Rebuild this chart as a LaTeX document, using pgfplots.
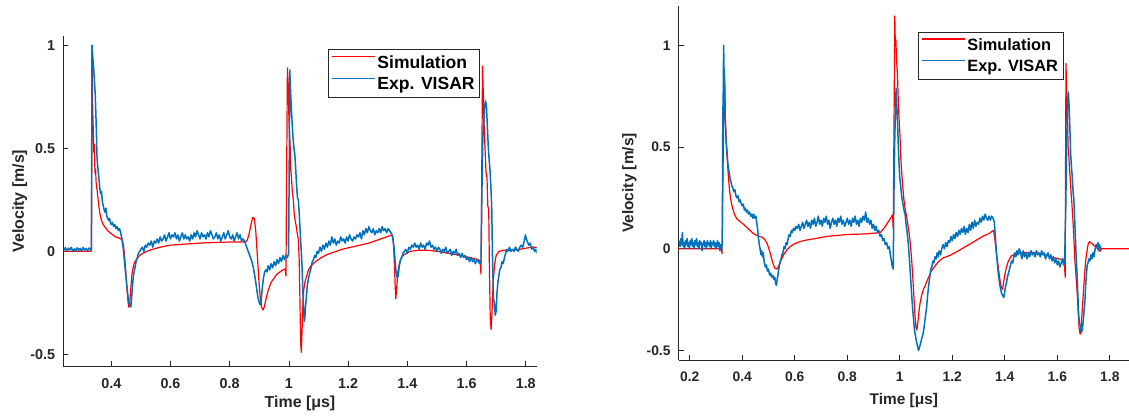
\documentclass[border=0pt]{standalone}
\usepackage{pgfplots}
\pgfplotsset{compat=1.18}
\usepackage{fontspec}
\setmainfont{Liberation Sans}
\definecolor{axgray}{RGB}{38,38,38}
\definecolor{mblue}{RGB}{0,114,189}
\definecolor{mred}{RGB}{255,0,0}
\pgfplotsset{
  mystyle/.style={
    scale only axis,
    axis x line=bottom, axis y line=left,
    axis line style={-, axgray, line width=0.8bp},
    tick align=inside,
    major tick length=5bp,
    tick style={axgray, line width=0.8bp},
    /pgf/number format/assume math mode=true,
    ytick={-0.5,0,0.5,1},
    yticklabels={-0.5,0,0.5,1},
    xticklabel style={inner sep=0pt, anchor=north, yshift=-12bp, text=axgray},
    yticklabel style={inner sep=0pt, anchor=east, xshift=-8bp, text=axgray},
    xlabel={Time [μs]}, ylabel={Velocity [m/s]},
    legend cell align=left,
    clip=true,
  },
  redl/.style={color=mred, line width=1.2bp, line join=round},
  bluel/.style={color=mblue, line width=1.5bp, line join=round},
}
\begin{document}
\begin{tikzpicture}
\begin{axis}[mystyle,
  at={(0bp,0bp)}, anchor=south west,
  width=473.4bp, height=330.3bp,
  xmin=0.238, xmax=1.837, ymin=-0.558, ymax=1.045,
  xtick={0.4,0.6,0.8,1,1.2,1.4,1.6,1.8},
  xticklabels={0.4,0.6,0.8,1,1.2,1.4,1.6,1.8},
  ticklabel style={font=\bfseries\fontsize{14.4}{16}\selectfont},
  label style={font=\bfseries\fontsize{16}{18}\selectfont, text=axgray, inner sep=0pt},
  xlabel style={at={(axis description cs:0.5,0)}, anchor=north, yshift=-29bp},
  ylabel style={at={(axis description cs:0,0.5)}, anchor=south, yshift=36bp},
  legend image code/.code={\draw[#1] (0bp,6.3bp) -- (43bp,6.3bp);},
  legend style={at={(0.880,0.960)}, anchor=north east, draw=axgray, line width=0.6bp,
    font=\bfseries\fontsize{17.6}{20}\selectfont, inner xsep=3bp, inner ysep=4bp,
    row sep=4bp},
]
\addplot[redl] coordinates {
(0.238,0.00)(0.330,0.00)(0.333,0.005)(0.334,0.5)(0.335,1.0)(0.337,0.72)(0.339,0.60)(0.341,0.48)(0.343,0.52)(0.345,0.38)(0.347,0.40)(0.349,0.33)(0.352,0.30)(0.355,0.26)(0.358,0.22)(0.362,0.18)(0.367,0.15)(0.373,0.13)(0.380,0.115)(0.388,0.10)(0.396,0.09)(0.405,0.08)(0.415,0.07)(0.425,0.065)(0.433,0.06)(0.438,0.05)(0.442,0.02)(0.446,-0.04)(0.450,-0.12)(0.454,-0.20)(0.457,-0.25)(0.459,-0.27)(0.461,-0.27)(0.464,-0.22)(0.467,-0.16)(0.470,-0.11)(0.475,-0.07)(0.480,-0.05)(0.490,-0.03)(0.500,-0.015)(0.520,0.00)(0.540,0.01)(0.565,0.02)(0.600,0.03)(0.650,0.035)(0.700,0.04)(0.750,0.043)(0.800,0.045)(0.850,0.045)(0.858,0.05)(0.865,0.08)(0.872,0.13)(0.878,0.165)(0.883,0.16)(0.888,0.10)(0.893,-0.01)(0.898,-0.13)(0.903,-0.22)(0.908,-0.27)(0.912,-0.285)(0.917,-0.27)(0.923,-0.23)(0.930,-0.19)(0.940,-0.15)(0.950,-0.13)(0.960,-0.11)(0.970,-0.10)(0.980,-0.09)(0.988,-0.085)(0.990,-0.12)(0.992,0.3)(0.995,0.89)(0.998,0.80)(1.000,0.65)(1.002,0.58)(1.004,0.52)(1.006,0.40)(1.009,0.35)(1.012,0.28)(1.015,0.25)(1.018,0.18)(1.021,0.15)(1.025,0.12)(1.029,0.08)(1.032,0.06)(1.035,-0.05)(1.038,-0.30)(1.040,-0.45)(1.042,-0.49)(1.044,-0.40)(1.047,-0.27)(1.050,-0.19)(1.054,-0.15)(1.060,-0.12)(1.066,-0.09)(1.075,-0.07)(1.090,-0.05)(1.110,-0.03)(1.130,-0.015)(1.150,-0.005)(1.180,0.01)(1.210,0.02)(1.240,0.03)(1.270,0.04)(1.300,0.055)(1.330,0.07)(1.350,0.08)(1.353,0.05)(1.356,-0.05)(1.359,-0.17)(1.361,-0.23)(1.364,-0.18)(1.368,-0.10)(1.373,-0.06)(1.380,-0.03)(1.390,-0.015)(1.410,0.00)(1.440,0.005)(1.470,0.005)(1.500,0.00)(1.540,-0.01)(1.580,-0.02)(1.610,-0.03)(1.640,-0.04)(1.646,-0.05)(1.649,-0.11)(1.651,0.3)(1.654,0.90)(1.657,0.75)(1.660,0.58)(1.663,0.48)(1.666,0.38)(1.669,0.36)(1.672,0.22)(1.675,0.20)(1.677,-0.05)(1.680,-0.32)(1.683,-0.38)(1.686,-0.30)(1.690,-0.15)(1.695,-0.06)(1.700,-0.02)(1.710,0.00)(1.725,0.005)(1.740,0.005)(1.760,0.005)(1.780,0.01)(1.800,0.015)(1.820,0.02)(1.837,0.02)
};
\addlegendentry{Simulation}
\addplot[bluel] coordinates {
(0.240,0.005)(0.245,0.018)(0.250,0.002)(0.255,0.015)(0.260,0.008)(0.265,0.020)(0.270,-0.002)(0.275,0.012)(0.280,0.004)(0.285,0.017)(0.290,0.006)(0.295,0.014)(0.300,0.000)(0.305,0.019)(0.310,0.007)(0.315,0.013)(0.320,0.003)(0.325,0.016)(0.330,0.009)(0.333,0.012)
(0.334,0.5)(0.335,1.0)(0.337,0.95)(0.340,0.90)(0.343,0.83)(0.346,0.76)(0.349,0.62)(0.352,0.45)(0.355,0.40)(0.358,0.36)(0.361,0.31)(0.364,0.28)(0.367,0.29)(0.370,0.24)(0.373,0.22)(0.376,0.20)(0.379,0.19)(0.382,0.21)(0.385,0.17)(0.388,0.16)(0.391,0.15)(0.394,0.16)(0.397,0.14)(0.400,0.13)(0.404,0.14)(0.408,0.12)(0.412,0.13)(0.416,0.11)(0.420,0.12)(0.424,0.10)(0.428,0.11)(0.432,0.09)(0.436,0.06)(0.440,0.02)(0.444,-0.04)(0.448,-0.10)(0.452,-0.16)(0.456,-0.21)(0.460,-0.25)(0.463,-0.26)(0.466,-0.27)(0.468,-0.24)(0.471,-0.18)(0.474,-0.13)(0.477,-0.10)(0.480,-0.08)(0.484,-0.05)(0.488,-0.03)(0.492,-0.01)(0.496,0.00)(0.500,0.01)(0.505,0.02)(0.510,0.00)(0.515,0.03)(0.520,0.02)(0.525,0.04)(0.530,0.03)(0.535,0.05)(0.540,0.02)(0.545,0.05)(0.550,0.04)(0.555,0.06)(0.560,0.04)(0.565,0.07)(0.570,0.05)(0.575,0.06)(0.580,0.08)(0.585,0.05)(0.590,0.07)(0.595,0.09)(0.600,0.06)(0.605,0.08)(0.610,0.07)(0.615,0.09)(0.620,0.06)(0.625,0.08)(0.630,0.05)(0.635,0.07)(0.640,0.09)(0.645,0.06)(0.650,0.08)(0.655,0.06)(0.660,0.07)(0.665,0.05)(0.670,0.08)(0.675,0.06)(0.680,0.09)(0.685,0.07)(0.690,0.10)(0.695,0.08)(0.700,0.06)(0.705,0.09)(0.710,0.07)(0.715,0.08)(0.720,0.06)(0.725,0.09)(0.730,0.07)(0.735,0.10)(0.740,0.08)(0.745,0.06)(0.750,0.07)(0.755,0.09)(0.760,0.06)(0.765,0.08)(0.770,0.05)(0.775,0.07)(0.780,0.09)(0.785,0.06)(0.790,0.08)(0.795,0.10)(0.800,0.07)(0.805,0.06)(0.810,0.08)(0.815,0.05)(0.820,0.07)(0.825,0.09)(0.830,0.06)(0.835,0.08)(0.840,0.05)(0.845,0.06)(0.850,0.05)(0.855,0.03)(0.860,0.01)(0.865,-0.01)(0.870,-0.03)(0.875,-0.05)(0.880,-0.08)(0.885,-0.12)(0.890,-0.17)(0.895,-0.22)(0.900,-0.25)(0.903,-0.26)(0.906,-0.24)(0.910,-0.18)(0.914,-0.13)(0.918,-0.10)(0.922,-0.09)(0.926,-0.10)(0.930,-0.07)(0.935,-0.09)(0.940,-0.06)(0.945,-0.08)(0.950,-0.05)(0.955,-0.07)(0.960,-0.04)(0.965,-0.06)(0.970,-0.03)(0.975,-0.05)(0.980,-0.02)(0.985,-0.04)(0.990,-0.02)(0.995,-0.03)(0.999,-0.01)
(1.001,0.40)(1.003,0.88)(1.005,0.80)(1.008,0.70)(1.011,0.62)(1.014,0.55)(1.017,0.50)(1.020,0.47)(1.023,0.40)(1.026,0.32)(1.029,0.26)(1.032,0.25)(1.035,0.18)(1.038,0.10)(1.041,0.02)(1.044,-0.06)(1.047,-0.18)(1.050,-0.30)(1.052,-0.34)(1.054,-0.32)(1.056,-0.27)(1.059,-0.22)(1.062,-0.17)(1.065,-0.14)(1.068,-0.12)(1.071,-0.10)(1.075,-0.08)(1.079,-0.05)(1.083,-0.04)(1.087,-0.02)(1.091,-0.03)(1.095,0.00)(1.100,-0.01)(1.105,0.02)(1.110,0.00)(1.115,0.03)(1.120,0.01)(1.125,0.04)(1.130,0.02)(1.135,0.05)(1.140,0.03)(1.145,0.07)(1.150,0.04)(1.155,0.06)(1.160,0.03)(1.165,0.05)(1.170,0.04)(1.175,0.07)(1.180,0.05)(1.185,0.06)(1.190,0.04)(1.195,0.07)(1.200,0.05)(1.205,0.08)(1.210,0.06)(1.215,0.05)(1.220,0.07)(1.225,0.06)(1.230,0.08)(1.235,0.07)(1.240,0.09)(1.245,0.06)(1.250,0.10)(1.255,0.08)(1.260,0.11)(1.265,0.09)(1.270,0.12)(1.275,0.10)(1.280,0.09)(1.285,0.11)(1.290,0.08)(1.295,0.10)(1.300,0.09)(1.305,0.11)(1.310,0.09)(1.315,0.12)(1.320,0.10)(1.325,0.11)(1.330,0.09)(1.335,0.11)(1.340,0.10)(1.345,0.09)(1.350,0.07)(1.355,0.02)(1.359,-0.05)(1.362,-0.10)(1.366,-0.13)(1.369,-0.12)(1.373,-0.07)(1.377,-0.04)(1.381,-0.03)(1.385,-0.01)(1.390,0.00)(1.395,0.01)(1.400,-0.01)(1.405,0.02)(1.410,0.01)(1.415,0.03)(1.420,0.02)(1.425,0.04)(1.430,0.02)(1.435,0.03)(1.440,0.01)(1.445,0.04)(1.450,0.02)(1.455,0.03)(1.460,0.01)(1.465,0.04)(1.470,0.03)(1.475,0.05)(1.480,0.02)(1.485,0.03)(1.490,0.01)(1.495,0.02)(1.500,0.00)(1.505,0.02)(1.510,0.01)(1.515,-0.01)(1.520,0.01)(1.525,0.00)(1.530,0.02)(1.535,-0.01)(1.540,0.00)(1.545,0.01)(1.550,-0.02)(1.555,0.00)(1.560,-0.01)(1.565,0.01)(1.570,-0.02)(1.575,-0.01)(1.580,-0.03)(1.585,-0.01)(1.590,-0.03)(1.595,-0.02)(1.600,-0.04)(1.605,-0.03)(1.610,-0.05)(1.615,-0.03)(1.620,-0.05)(1.625,-0.04)(1.630,-0.06)(1.635,-0.04)(1.640,-0.05)(1.645,-0.06)(1.649,-0.05)
(1.652,0.30)(1.655,0.55)(1.658,0.62)(1.661,0.70)(1.664,0.73)(1.667,0.71)(1.670,0.62)(1.673,0.52)(1.676,0.45)(1.679,0.40)(1.682,0.32)(1.685,0.22)(1.688,-0.05)(1.691,-0.23)(1.694,-0.25)(1.697,-0.31)(1.700,-0.29)(1.703,-0.20)(1.706,-0.15)(1.709,-0.12)(1.712,-0.09)(1.716,-0.08)(1.720,-0.05)(1.724,-0.06)(1.728,-0.03)(1.732,-0.01)(1.736,0.01)(1.740,0.00)(1.745,0.02)(1.750,0.00)(1.755,0.01)(1.760,0.00)(1.765,0.02)(1.770,0.01)(1.775,0.00)(1.780,0.02)(1.785,0.03)(1.790,0.02)(1.795,0.05)(1.799,0.08)(1.802,0.06)(1.805,0.05)(1.810,0.03)(1.815,0.04)(1.820,0.01)(1.825,0.02)(1.830,0.00)(1.834,0.01)(1.837,-0.01)
};
\addlegendentry{Exp. VISAR}
\end{axis}

\begin{axis}[mystyle,
  at={(615.4bp,6.3bp)}, anchor=south west,
  width=450.3bp, height=354bp,
  xmin=0.158, xmax=1.873, ymin=-0.547, ymax=1.193,
  xtick={0.2,0.4,0.6,0.8,1,1.2,1.4,1.6,1.8},
  xticklabels={0.2,0.4,0.6,0.8,1,1.2,1.4,1.6,1.8},
  ticklabel style={font=\bfseries\fontsize{13.9}{16}\selectfont},
  label style={font=\bfseries\fontsize{15.5}{18}\selectfont, text=axgray, inner sep=0pt},
  xlabel style={at={(axis description cs:0.5,0)}, anchor=north, yshift=-33bp},
  ylabel style={at={(axis description cs:0,0.5)}, anchor=south, yshift=42bp},
  legend image code/.code={\draw[#1] (0bp,6.1bp) -- (43bp,6.1bp);},
  legend style={at={(0.854,0.926)}, anchor=north east, draw=axgray, line width=0.6bp,
    font=\bfseries\fontsize{16.4}{19}\selectfont, inner xsep=3bp, inner ysep=4bp,
    row sep=4.5bp},
]
\addplot[redl] coordinates {
(0.158,0.00)(0.320,0.00)(0.323,-0.025)(0.326,0.30)(0.330,0.70)(0.332,0.87)(0.334,0.80)(0.336,0.62)(0.338,0.58)(0.340,0.49)(0.343,0.44)(0.346,0.38)(0.350,0.31)(0.354,0.26)(0.358,0.23)(0.363,0.20)(0.370,0.17)(0.378,0.15)(0.386,0.14)(0.395,0.13)(0.405,0.12)(0.417,0.105)(0.430,0.09)(0.442,0.075)(0.455,0.065)(0.468,0.06)(0.478,0.055)(0.486,0.045)(0.493,0.03)(0.499,0.01)(0.506,-0.02)(0.512,-0.05)(0.518,-0.075)(0.524,-0.095)(0.531,-0.10)(0.537,-0.09)(0.543,-0.07)(0.550,-0.05)(0.560,-0.025)(0.570,-0.005)(0.582,0.01)(0.600,0.025)(0.620,0.035)(0.646,0.043)(0.680,0.05)(0.720,0.06)(0.760,0.065)(0.800,0.07)(0.860,0.072)(0.925,0.079)(0.940,0.10)(0.955,0.13)(0.965,0.15)(0.972,0.166)(0.975,0.10)(0.978,0.6)(0.981,1.144)(0.983,1.00)(0.985,1.03)(0.987,0.95)(0.989,0.90)(0.991,0.86)(0.993,0.78)(0.995,0.70)(0.998,0.62)(1.001,0.55)(1.004,0.44)(1.007,0.38)(1.011,0.31)(1.015,0.25)(1.020,0.20)(1.027,0.15)(1.033,0.10)(1.039,0.04)(1.045,-0.05)(1.050,-0.15)(1.054,-0.24)(1.058,-0.33)(1.062,-0.39)(1.065,-0.40)(1.069,-0.36)(1.073,-0.31)(1.077,-0.27)(1.083,-0.23)(1.090,-0.20)(1.097,-0.18)(1.103,-0.16)(1.110,-0.14)(1.120,-0.11)(1.134,-0.085)(1.150,-0.06)(1.165,-0.045)(1.179,-0.039)(1.195,-0.03)(1.210,-0.02)(1.230,-0.005)(1.250,0.01)(1.270,0.025)(1.293,0.043)(1.315,0.06)(1.340,0.075)(1.357,0.09)(1.362,0.05)(1.367,-0.01)(1.372,-0.06)(1.377,-0.11)(1.382,-0.16)(1.387,-0.19)(1.391,-0.20)(1.395,-0.17)(1.400,-0.13)(1.406,-0.09)(1.414,-0.06)(1.425,-0.035)(1.446,-0.023)(1.470,-0.018)(1.509,-0.018)(1.550,-0.03)(1.590,-0.045)(1.615,-0.052)(1.626,-0.055)(1.630,-0.14)(1.631,0.3)(1.633,0.91)(1.635,0.80)(1.637,0.62)(1.639,0.64)(1.641,0.50)(1.643,0.48)(1.646,0.40)(1.649,0.35)(1.652,0.28)(1.655,0.23)(1.659,0.15)(1.663,0.05)(1.667,-0.06)(1.671,-0.13)(1.675,-0.20)(1.679,-0.30)(1.683,-0.39)(1.687,-0.42)(1.691,-0.38)(1.695,-0.30)(1.699,-0.22)(1.704,-0.12)(1.708,-0.06)(1.712,-0.02)(1.717,0.02)(1.722,0.035)(1.727,0.03)(1.733,0.025)(1.740,0.015)(1.747,0.01)(1.753,0.00)(1.758,-0.01)(1.763,-0.012)(1.768,0.00)(1.776,0.00)(1.873,0.00)
};
\addlegendentry{Simulation}
\addplot[bluel] coordinates {
(0.160,0.04)(0.163,0.01)(0.166,0.05)(0.169,0.02)(0.172,0.08)(0.175,0.01)(0.178,0.03)(0.181,0.00)(0.184,0.04)(0.187,0.02)(0.190,0.05)(0.193,0.01)(0.196,0.03)(0.199,0.00)(0.202,0.04)(0.205,0.02)(0.208,0.05)(0.211,0.01)(0.214,0.03)(0.217,0.00)(0.220,0.04)(0.223,0.02)(0.226,0.05)(0.229,0.01)(0.232,0.03)(0.235,0.00)(0.238,0.04)(0.241,0.02)(0.244,0.03)(0.247,-0.01)(0.250,0.02)(0.255,0.04)(0.258,0.01)(0.261,0.03)(0.264,0.00)(0.267,0.04)(0.270,0.02)(0.273,0.03)(0.276,0.01)(0.279,0.04)(0.282,0.00)(0.285,0.03)(0.288,0.02)(0.291,0.04)(0.294,0.01)(0.297,0.03)(0.300,0.00)(0.303,0.02)(0.306,0.04)(0.309,0.01)(0.312,0.03)(0.315,-0.01)(0.318,0.02)(0.321,0.00)(0.324,0.03)
(0.326,0.65)(0.328,0.80)(0.329,1.00)(0.331,0.85)(0.333,0.74)(0.336,0.60)(0.339,0.52)(0.342,0.48)(0.345,0.42)(0.348,0.39)(0.351,0.37)(0.354,0.34)(0.357,0.33)(0.360,0.31)(0.364,0.30)(0.368,0.28)(0.372,0.29)(0.376,0.26)(0.380,0.25)(0.384,0.26)(0.388,0.23)(0.392,0.24)(0.396,0.22)(0.400,0.21)(0.404,0.22)(0.408,0.19)(0.412,0.20)(0.416,0.18)(0.420,0.19)(0.424,0.17)(0.428,0.18)(0.432,0.16)(0.436,0.17)(0.440,0.15)(0.444,0.17)(0.448,0.15)(0.452,0.16)(0.456,0.12)(0.459,0.09)(0.462,0.05)(0.465,0.02)(0.468,0.00)(0.471,-0.03)(0.474,-0.01)(0.477,-0.04)(0.480,-0.02)(0.484,-0.07)(0.488,-0.09)(0.492,-0.08)(0.496,-0.11)(0.500,-0.10)(0.504,-0.13)(0.508,-0.12)(0.512,-0.14)(0.516,-0.13)(0.520,-0.15)(0.524,-0.14)(0.527,-0.17)(0.530,-0.18)(0.533,-0.15)(0.536,-0.13)(0.539,-0.10)(0.542,-0.08)(0.545,-0.06)(0.548,-0.05)(0.551,-0.03)(0.555,-0.02)(0.559,0.01)(0.563,0.00)(0.567,0.03)(0.571,0.02)(0.575,0.05)(0.579,0.07)(0.583,0.06)(0.587,0.09)(0.591,0.08)(0.595,0.10)(0.600,0.09)(0.605,0.11)(0.610,0.10)(0.615,0.12)(0.620,0.09)(0.625,0.11)(0.630,0.13)(0.635,0.10)(0.640,0.12)(0.645,0.14)(0.650,0.11)(0.655,0.13)(0.660,0.10)(0.665,0.14)(0.670,0.12)(0.675,0.15)(0.680,0.11)(0.685,0.13)(0.690,0.16)(0.695,0.12)(0.700,0.14)(0.705,0.11)(0.710,0.15)(0.715,0.13)(0.720,0.16)(0.725,0.12)(0.730,0.14)(0.735,0.10)(0.740,0.13)(0.745,0.15)(0.750,0.12)(0.755,0.14)(0.760,0.11)(0.765,0.15)(0.770,0.13)(0.775,0.16)(0.780,0.12)(0.785,0.14)(0.790,0.11)(0.795,0.13)(0.800,0.15)(0.805,0.12)(0.810,0.14)(0.815,0.11)(0.820,0.15)(0.825,0.13)(0.830,0.16)(0.835,0.12)(0.840,0.14)(0.845,0.11)(0.850,0.15)(0.855,0.13)(0.860,0.16)(0.865,0.14)(0.870,0.18)(0.875,0.13)(0.880,0.15)(0.885,0.12)(0.890,0.14)(0.895,0.10)(0.900,0.12)(0.905,0.09)(0.910,0.11)(0.915,0.08)(0.920,0.09)(0.925,0.06)(0.930,0.07)(0.935,0.04)(0.940,0.05)(0.945,0.02)(0.950,0.03)(0.955,0.00)(0.960,0.01)(0.964,-0.03)(0.968,-0.06)(0.972,-0.09)(0.975,-0.10)
(0.978,0.30)(0.981,0.55)(0.984,0.70)(0.986,0.79)(0.988,0.72)(0.991,0.64)(0.994,0.52)(0.997,0.42)(1.000,0.35)(1.004,0.30)(1.008,0.25)(1.012,0.22)(1.016,0.19)(1.020,0.17)(1.024,0.12)(1.028,0.08)(1.032,0.03)(1.036,-0.04)(1.040,-0.12)(1.044,-0.20)(1.048,-0.28)(1.052,-0.34)(1.056,-0.40)(1.060,-0.43)(1.064,-0.46)(1.068,-0.48)(1.071,-0.50)(1.074,-0.49)(1.078,-0.47)(1.082,-0.45)(1.086,-0.43)(1.090,-0.41)(1.094,-0.37)(1.098,-0.33)(1.102,-0.29)(1.106,-0.23)(1.110,-0.18)(1.114,-0.14)(1.118,-0.10)(1.122,-0.09)(1.126,-0.06)(1.130,-0.07)(1.134,-0.04)(1.138,-0.05)(1.142,-0.02)(1.146,-0.04)(1.150,-0.01)(1.155,-0.03)(1.160,0.00)(1.165,0.02)(1.170,0.00)(1.175,0.03)(1.180,0.01)(1.185,0.04)(1.190,0.03)(1.195,0.06)(1.200,0.04)(1.205,0.07)(1.210,0.05)(1.215,0.08)(1.220,0.06)(1.225,0.09)(1.230,0.07)(1.235,0.10)(1.240,0.08)(1.245,0.11)(1.250,0.07)(1.255,0.10)(1.260,0.08)(1.265,0.12)(1.270,0.09)(1.275,0.13)(1.280,0.10)(1.285,0.14)(1.290,0.11)(1.295,0.13)(1.300,0.12)(1.305,0.15)(1.310,0.13)(1.315,0.16)(1.320,0.14)(1.325,0.17)(1.330,0.15)(1.335,0.14)(1.340,0.16)(1.345,0.14)(1.350,0.16)(1.355,0.15)(1.360,0.13)(1.364,0.06)(1.368,-0.02)(1.372,-0.08)(1.376,-0.13)(1.380,-0.17)(1.384,-0.20)(1.388,-0.22)(1.392,-0.23)(1.396,-0.24)(1.399,-0.22)(1.402,-0.19)(1.406,-0.17)(1.410,-0.14)(1.414,-0.12)(1.418,-0.10)(1.422,-0.08)(1.426,-0.06)(1.430,-0.07)(1.434,-0.04)(1.438,-0.02)(1.442,-0.04)(1.446,-0.01)(1.450,-0.03)(1.455,0.00)(1.460,-0.02)(1.465,-0.05)(1.470,-0.01)(1.475,-0.04)(1.480,-0.02)(1.485,-0.05)(1.490,-0.02)(1.495,-0.04)(1.500,-0.01)(1.505,-0.03)(1.510,-0.02)(1.515,-0.04)(1.520,-0.01)(1.525,-0.03)(1.530,-0.02)(1.535,-0.04)(1.540,-0.01)(1.545,-0.03)(1.550,-0.02)(1.555,-0.05)(1.560,-0.03)(1.565,-0.02)(1.570,-0.05)(1.575,-0.03)(1.580,-0.06)(1.585,-0.04)(1.590,-0.07)(1.595,-0.05)(1.600,-0.08)(1.605,-0.06)(1.610,-0.09)(1.615,-0.07)(1.620,-0.05)(1.624,-0.08)(1.628,-0.06)
(1.632,0.20)(1.636,0.55)(1.640,0.74)(1.642,0.77)(1.645,0.70)(1.648,0.58)(1.651,0.46)(1.654,0.40)(1.657,0.35)(1.660,0.28)(1.663,0.24)(1.666,0.15)(1.669,0.05)(1.672,-0.05)(1.675,-0.12)(1.678,-0.22)(1.681,-0.32)(1.684,-0.36)(1.687,-0.38)(1.690,-0.40)(1.693,-0.41)(1.696,-0.39)(1.699,-0.35)(1.702,-0.30)(1.705,-0.26)(1.708,-0.18)(1.711,-0.12)(1.714,-0.08)(1.717,-0.07)(1.720,-0.05)(1.724,-0.06)(1.728,-0.03)(1.732,-0.05)(1.736,-0.02)(1.740,-0.04)(1.744,0.00)(1.748,0.02)(1.752,0.01)(1.755,0.03)(1.758,-0.01)(1.761,0.02)(1.764,0.00)(1.766,0.01)
};
\addlegendentry{Exp. VISAR}
\end{axis}
\pgfresetboundingbox
\path[use as bounding box] (-63.3bp,-49.7bp) rectangle (1065.7bp,366.3bp);
\end{tikzpicture}
\end{document}
